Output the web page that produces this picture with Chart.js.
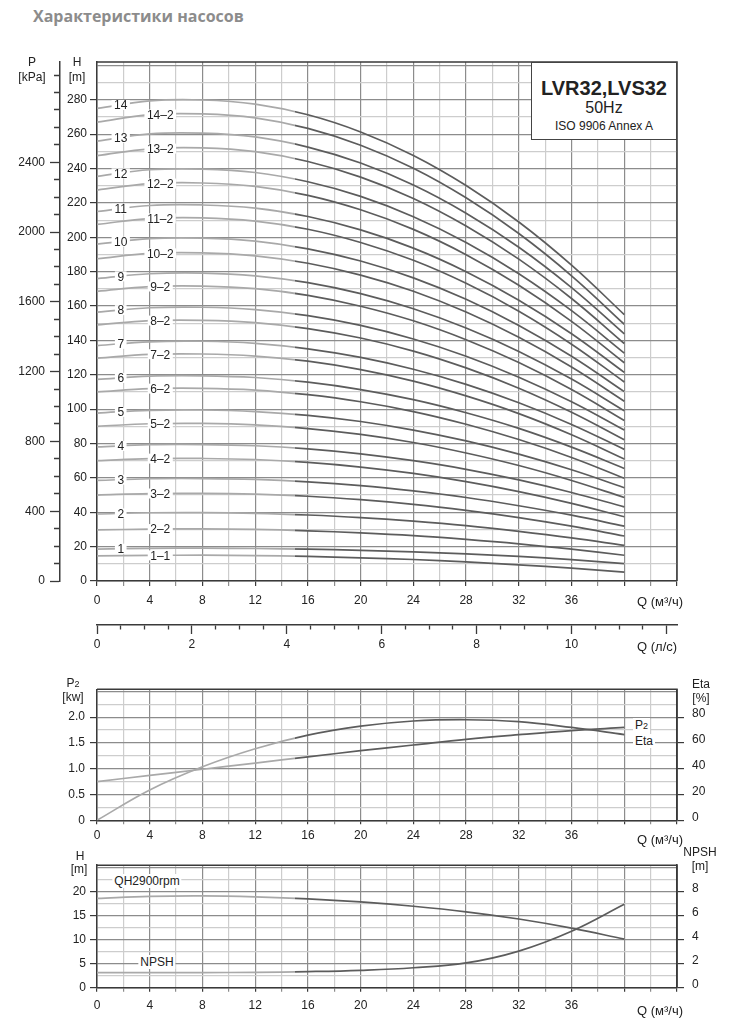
<!DOCTYPE html>
<html lang="ru">
<head>
<meta charset="utf-8">
<title>Характеристики насосов LVR32, LVS32</title>
<script src="https://cdn.jsdelivr.net/npm/chart.js@4.4.1/dist/chart.umd.min.js"></script>
<style>
  body { margin: 0; background: #fff; }
  #page { position: relative; width: 731px; height: 1024px; overflow: hidden;
          font-family: "Liberation Sans", Arial, sans-serif; color: #222; }
  canvas { position: absolute; left: 0; }
  .t  { position: absolute; transform: translate(-50%, -50%); font-size: 12px; line-height: 1; white-space: nowrap; }
  .tl { position: absolute; transform: translateY(-50%); font-size: 13px; line-height: 1; white-space: nowrap; }
  .bg { background: #fff; padding: 1px 2px; }
  .sub { font-size: 9px; }
  #heading { position: absolute; left: 33px; top: 5px; line-height: 20px;
             font: bold 16px "Open Sans", sans-serif; color: #8c8c8c; }
  #badge { position: absolute; left: 531px; top: 62px; width: 146px; height: 78px; box-sizing: border-box;
           border: 1.5px solid #444; background: #fff; }
  #badge div { position: absolute; left: 0; right: 0; text-align: center; transform: translateY(-50%); line-height: 1; }
</style>
</head>
<body>
<div id="page">
  <div id="heading">Характеристики насосов</div>

  <canvas id="headChart" width="731" height="660" style="top:0;width:731px;height:660px"></canvas>
  <canvas id="powerChart" width="731" height="190" style="top:660px;width:731px;height:190px"></canvas>
  <canvas id="npshChart" width="731" height="174" style="top:850px;width:731px;height:174px"></canvas>

  <!-- основной график -->
  <div class="t" style="left:32px;top:62px">P</div>
  <div class="t" style="left:32px;top:77px">[kPa]</div>
  <div class="t" style="left:77px;top:62px">H</div>
  <div class="t" style="left:77px;top:77px">[m]</div>
  <div class="tl" style="left:637px;top:601px">Q (м³/ч)</div>
  <div class="tl" style="left:637px;top:646px">Q (л/с)</div>
  <div id="badge">
    <div style="top:25px;font-weight:bold;font-size:20px">LVR32,LVS32</div>
    <div style="top:45px;font-size:16px">50Hz</div>
    <div style="top:63px;font-size:12px">ISO 9906 Annex A</div>
  </div>

  <!-- P2 / Eta -->
  <div class="t" style="left:73px;top:683px">P<span class="sub">2</span></div>
  <div class="t" style="left:73px;top:697px">[kw]</div>
  <div class="t" style="left:701px;top:684px">Eta</div>
  <div class="t" style="left:701px;top:698px">[%]</div>
  <div class="tl bg" style="left:633px;top:725px;font-size:12px">P<span class="sub">2</span></div>
  <div class="tl bg" style="left:633px;top:741px;font-size:12px">Eta</div>
  <div class="tl" style="left:637px;top:839px">Q (м³/ч)</div>

  <!-- QH / NPSH -->
  <div class="t" style="left:80px;top:856px">H</div>
  <div class="t" style="left:79px;top:869px">[m]</div>
  <div class="t" style="left:700px;top:852px">NPSH</div>
  <div class="t" style="left:700px;top:866px">[m]</div>
  <div class="t bg" style="left:147px;top:881px">QH2900rpm</div>
  <div class="t bg" style="left:157px;top:962px">NPSH</div>
  <div class="tl" style="left:637px;top:1010px">Q (м³/ч)</div>
</div>

<script>
/* ---------- данные ---------- */

const flowQ = [0, 4, 8, 12, 16, 20, 24, 28, 32, 36, 40];

// напор H [m] по числу ступеней (k и k-2)
const stage1_1  = [14.6, 14.9, 15.0, 14.8, 14.3, 13.5, 12.5, 11.1, 9.4, 7.5, 5.2];
const stage1    = [18.6, 19.0, 19.1, 18.9, 18.5, 17.85, 16.95, 15.8, 14.3, 12.4, 10.1];
const stage2_2  = [29.7, 30.2, 30.3, 30.0, 29.2, 28.0, 26.4, 24.2, 21.6, 18.5, 15.0];
const stage2    = [39.0, 39.7, 39.8, 39.4, 38.4, 36.9, 34.8, 32.2, 28.9, 25.1, 20.7];
const stage3_2  = [50.0, 50.9, 51.0, 50.5, 49.3, 47.3, 44.6, 41.1, 36.9, 31.9, 26.2];
const stage3    = [58.5, 59.5, 59.6, 59.1, 57.7, 55.5, 52.4, 48.6, 43.8, 38.3, 31.9];
const stage4_2  = [70.0, 71.2, 71.3, 70.7, 69.0, 66.3, 62.6, 57.8, 52.0, 45.2, 37.4];
const stage4    = [78.0, 79.3, 79.4, 78.7, 76.9, 74.0, 70.0, 65.0, 58.8, 51.5, 43.1];
const stage5_2  = [90.0, 91.5, 91.7, 90.9, 88.7, 85.3, 80.6, 74.5, 67.2, 58.5, 48.6];
const stage5    = [97.7, 99.3, 99.5, 98.6, 96.4, 92.8, 87.8, 81.5, 73.8, 64.7, 54.3];
const stage6_2  = [110.0, 111.9, 112.1, 111.1, 108.4, 104.3, 98.6, 91.2, 82.3, 71.9, 59.8];
const stage6    = [117.3, 119.2, 119.4, 118.4, 115.7, 111.4, 105.5, 97.9, 88.8, 77.9, 65.5];
const stage7_2  = [129.7, 131.9, 132.1, 130.9, 127.9, 123.0, 116.3, 107.7, 97.4, 85.1, 71.0];
const stage7    = [137.0, 139.2, 139.5, 138.3, 135.1, 130.1, 123.2, 114.4, 103.7, 91.1, 76.6];
const stage8_2  = [149.0, 151.5, 151.7, 150.4, 146.9, 141.4, 133.8, 124.0, 112.2, 98.2, 82.2];
const stage8    = [156.5, 159.0, 159.3, 157.9, 154.4, 148.7, 140.8, 130.8, 118.6, 104.3, 87.8];
const stage9_2  = [168.5, 171.3, 171.6, 170.1, 166.2, 159.9, 151.4, 140.4, 127.1, 111.4, 93.4];
const stage9    = [176.0, 178.8, 179.2, 177.6, 173.6, 167.2, 158.4, 147.2, 133.6, 117.5, 99.0];
const stage10_2 = [187.5, 190.6, 190.9, 189.2, 184.9, 178.0, 168.6, 156.5, 141.8, 124.5, 104.6];
const stage10   = [196.0, 199.2, 199.5, 197.8, 193.3, 186.2, 176.4, 163.9, 148.7, 130.8, 110.2];
const stage11_2 = [207.5, 210.9, 211.3, 209.4, 204.7, 197.0, 186.6, 173.2, 157.0, 137.8, 115.8];
const stage11   = [215.0, 218.5, 218.8, 217.0, 212.1, 204.3, 193.7, 180.0, 163.4, 143.9, 121.4];
const stage12_2 = [227.5, 231.2, 231.6, 229.6, 224.4, 216.0, 204.6, 189.9, 172.1, 151.1, 127.0];
const stage12   = [235.5, 239.3, 239.7, 237.7, 232.3, 223.8, 212.0, 197.0, 178.8, 157.3, 132.6];
const stage13_2 = [247.5, 251.5, 252.0, 249.8, 244.1, 235.0, 222.6, 206.6, 187.3, 164.4, 138.2];
const stage13   = [256.0, 260.2, 260.6, 258.4, 252.5, 243.2, 230.4, 214.0, 194.2, 170.7, 143.8];
const stage14_2 = [267.0, 271.4, 271.8, 269.5, 263.4, 253.6, 240.2, 223.0, 202.2, 177.6, 149.4];
const stage14   = [275.0, 279.4, 279.9, 277.5, 271.3, 261.3, 247.6, 230.1, 208.9, 183.8, 155.0];

const stageNames = ['1–1', '1', '2–2', '2', '3–2', '3', '4–2', '4', '5–2', '5', '6–2', '6', '7–2', '7',
                    '8–2', '8', '9–2', '9', '10–2', '10', '11–2', '11', '12–2', '12', '13–2', '13', '14–2', '14'];
const headCurves = [stage1_1, stage1, stage2_2, stage2, stage3_2, stage3, stage4_2, stage4, stage5_2, stage5,
                    stage6_2, stage6, stage7_2, stage7, stage8_2, stage8, stage9_2, stage9, stage10_2, stage10,
                    stage11_2, stage11, stage12_2, stage12, stage13_2, stage13, stage14_2, stage14];

const p2Power = [0.75, 0.87, 0.99, 1.11, 1.23, 1.35, 1.46, 1.57, 1.66, 1.74, 1.80];   // kW
const etaPct  = [0, 23.5, 41.5, 55.5, 66, 73, 77, 78, 76.5, 72, 66.5];                // %
const qh2900  = [18.6, 19.0, 19.1, 18.9, 18.5, 17.85, 16.95, 15.8, 14.3, 12.4, 10.1]; // m
const npshReq = [1.25, 1.25, 1.26, 1.28, 1.34, 1.45, 1.66, 2.06, 3.05, 4.7, 6.95];    // m

// подписи делений
const qTickLabels    = [0, 4, 8, 12, 16, 20, 24, 28, 32, 36];
const lsTickLabels   = [0, 2, 4, 6, 8, 10];
const headTickLabels = [0, 20, 40, 60, 80, 100, 120, 140, 160, 180, 200, 220, 240, 260, 280];
const kpaTickLabels  = [0, 400, 800, 1200, 1600, 2000, 2400];
const p2TickLabels   = [0, 0.5, 1.0, 1.5, 2.0];
const etaTickLabels  = [0, 20, 40, 60, 80];
const qhTickLabels   = [0, 5, 10, 15, 20];
const npshTickLabels = [0, 2, 4, 6, 8];

/* ---------- оформление ---------- */

const GRID_DARK = '#8c8c8c';
const GRID_LIGHT = '#cdcdcd';
const AXIS = '#3a3a3a';
const CURVE_LIGHT = '#a9a9a9';
const CURVE_DARK = '#5c5c5c';
const SPLIT_Q = 15;           // граница светлой/тёмной части кривых
const TAG_Q_FULL = 1.8;       // где стоят подписи "k"
const TAG_Q_TRIM = 4.8;       // где стоят подписи "k–2"
const FONT = '"Liberation Sans", Arial, sans-serif';

Chart.defaults.font.family = FONT;
Chart.defaults.font.size = 12;
Chart.defaults.color = '#222';
Chart.defaults.animation = false;

const near = (a, b) => Math.abs(a - b) < 1e-6;
const inList = (list, v) => list.some(l => near(l, v));
const isMultiple = (v, step) => near(v / step, Math.round(v / step));

function splitColor(c) {
  const chart = c.chart;
  const area = chart.chartArea;
  if (!area) return CURVE_DARK;
  const t = (chart.scales.x.getPixelForValue(SPLIT_Q) - area.left) / (area.right - area.left);
  const g = chart.ctx.createLinearGradient(area.left, 0, area.right, 0);
  g.addColorStop(0, CURVE_LIGHT);
  g.addColorStop(t, CURVE_LIGHT);
  g.addColorStop(t, CURVE_DARK);
  g.addColorStop(1, CURVE_DARK);
  return g;
}

function curve(label, values, axis) {
  return {
    label,
    yAxisID: axis || 'y',
    data: flowQ.map((q, i) => ({ x: q, y: values[i] })),
    borderColor: splitColor,
    borderWidth: 1.7,
    pointRadius: 0,
    tension: 0.4,
    fill: false
  };
}

function flowAxis(height, pad, tickLen) {
  return {
    type: 'linear', position: 'bottom', min: 0, max: 44,
    afterFit: s => { s.height = height; },
    ticks: { stepSize: 2, autoSkip: false, maxRotation: 0, includeBounds: false, padding: pad,
             callback: v => inList(qTickLabels, v) ? String(v) : '' },
    grid: { color: c => isMultiple(c.tick.value, 4) ? GRID_DARK : GRID_LIGHT, lineWidth: 1.2,
            tickLength: tickLen, tickColor: c => isMultiple(c.tick.value, 4) ? AXIS : GRID_DARK },
    border: { color: AXIS, width: 1.5 }
  };
}

// ось значений: сетка на графике, риски только у подписанных делений
function valueAxis(opts) {
  return {
    type: 'linear', position: opts.position, min: 0, max: opts.max, weight: opts.weight || 0,
    afterFit: s => { s.width = opts.width; },
    ticks: { stepSize: opts.step, autoSkip: false, includeBounds: false, padding: opts.pad,
             labelOffset: opts.labelOffset || 0,
             callback: v => inList(opts.labels, v) ? (opts.format ? opts.format(v) : String(v)) : '' },
    grid: {
      drawOnChartArea: !!opts.major,
      color: c => opts.major && isMultiple(c.tick.value, opts.major) ? GRID_DARK : GRID_LIGHT,
      lineWidth: 1.2,
      tickLength: 7,
      tickColor: c => inList(opts.labels, c.tick.value) ? AXIS : 'rgba(0,0,0,0)'
    },
    border: { color: AXIS, width: 1.5 }
  };
}

const frame = {
  id: 'frame',
  afterDraw(chart) {
    const { ctx, chartArea: a } = chart;
    ctx.save();
    ctx.strokeStyle = AXIS;
    ctx.lineWidth = 1.5;
    ctx.beginPath();
    ctx.moveTo(a.left, a.top);
    ctx.lineTo(a.right, a.top);
    ctx.lineTo(a.right, a.bottom);
    ctx.stroke();
    ctx.restore();
  }
};

function headAt(points, q) {
  for (let i = 1; i < points.length; i++) {
    if (q <= points[i].x) {
      const p = points[i - 1], n = points[i];
      return p.y + (n.y - p.y) * (q - p.x) / (n.x - p.x);
    }
  }
  return points[points.length - 1].y;
}

const curveTags = {
  id: 'curveTags',
  afterDatasetsDraw(chart) {
    const { ctx, scales: { x, y } } = chart;
    ctx.save();
    ctx.font = '12px ' + FONT;
    ctx.textAlign = 'center';
    ctx.textBaseline = 'middle';
    chart.data.datasets.forEach(ds => {
      const q = ds.label.includes('–') ? TAG_Q_TRIM : TAG_Q_FULL;
      const px = x.getPixelForValue(q);
      const py = y.getPixelForValue(headAt(ds.data, q));
      const w = ctx.measureText(ds.label).width + 5;
      ctx.fillStyle = '#fff';
      ctx.fillRect(px - w / 2, py - 5, w, 10);
      ctx.fillStyle = '#222';
      ctx.fillText(ds.label, px, py + 1);
    });
    ctx.restore();
  }
};

const common = {
  responsive: false,
  events: [],
  plugins: { legend: { display: false }, tooltip: { enabled: false } }
};

/* ---------- 1. Q-H по ступеням ---------- */

new Chart(document.getElementById('headChart'), {
  type: 'line',
  data: { datasets: headCurves.map((vals, i) => curve(stageNames[i], vals)) },
  options: {
    ...common,
    layout: { padding: { top: 62, right: 54, left: 0, bottom: 0 } },
    scales: {
      x: flowAxis(44, 7, 5),
      xl: {
        type: 'linear', position: 'bottom', min: 0, max: 44 / 3.6, weight: 1,
        afterFit: s => { s.height = 35; },
        ticks: { stepSize: 0.5, autoSkip: false, maxRotation: 0, includeBounds: false, padding: 3,
                 callback: v => inList(lsTickLabels, v) ? String(v) : '' },
        grid: { drawOnChartArea: false, tickLength: 9, tickColor: AXIS, tickWidth: 1.3,
                tickBorderDash: c => isMultiple(c.tick.value, 2) ? [] : [4, 100] },
        border: { color: AXIS, width: 1.5 }
      },
      y: valueAxis({ position: 'left', max: 302, step: 10, major: 20, width: 37, pad: 3,
                     labels: headTickLabels }),
      p: {
        type: 'linear', position: 'left', min: 0, max: 2975, weight: 1,
        afterFit: s => { s.width = 60; },
        ticks: { stepSize: 100, autoSkip: false, includeBounds: false, padding: 5,
                 callback: v => inList(kpaTickLabels, v) ? String(v) : '' },
        grid: { drawOnChartArea: false, tickLength: 10, tickColor: AXIS, tickWidth: 1.3,
                tickBorderDash: c => inList(kpaTickLabels, c.tick.value) ? [] : [0, 4, 6, 100] },
        border: { color: AXIS, width: 1.5 }
      }
    }
  },
  plugins: [frame, curveTags]
});

/* ---------- 2. P2 и КПД ---------- */

new Chart(document.getElementById('powerChart'), {
  type: 'line',
  data: { datasets: [curve('P2', p2Power, 'y'), curve('Eta', etaPct, 'eta')] },
  options: {
    ...common,
    layout: { padding: { top: 29.3, right: 0, left: 0, bottom: 0 } },
    scales: {
      x: flowAxis(29.7, 4, 4),
      y: valueAxis({ position: 'left', max: 2.54, step: 0.25, major: 0.5, width: 97, pad: 5,
                     labels: p2TickLabels, format: v => v === 0 ? '0' : v.toFixed(1) }),
      eta: valueAxis({ position: 'right', max: 101.6, step: 10, width: 54, pad: 8, labelOffset: -3,
                       labels: etaTickLabels })
    }
  },
  plugins: [frame]
});

/* ---------- 3. QH одной ступени и NPSH ---------- */

new Chart(document.getElementById('npshChart'), {
  type: 'line',
  data: { datasets: [curve('QH2900rpm', qh2900, 'y'), curve('NPSH', npshReq, 'npsh')] },
  options: {
    ...common,
    layout: { padding: { top: 6.7, right: 0, left: 0, bottom: 0 } },
    scales: {
      x: flowAxis(36.3, 7, 4),
      y: valueAxis({ position: 'left', max: 25.5, step: 2.5, major: 5, width: 97, pad: 4,
                     labels: qhTickLabels }),
      npsh: valueAxis({ position: 'right', max: 10.2, step: 1, width: 54, pad: 8, labelOffset: -3,
                        labels: npshTickLabels })
    }
  },
  plugins: [frame]
});
</script>
</body>
</html>
